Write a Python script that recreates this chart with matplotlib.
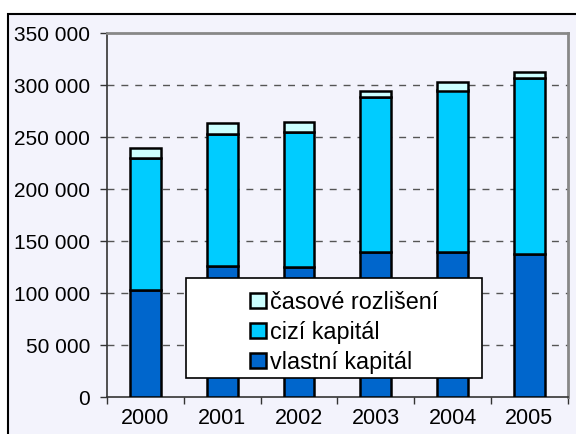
import matplotlib
matplotlib.use('Agg')
import matplotlib.pyplot as plt
import matplotlib.patches as mpatches
import matplotlib.ticker as mticker
import numpy as np

plt.rcParams['font.family'] = ['Liberation Sans', 'DejaVu Sans']

years = ['2000', '2001', '2002', '2003', '2004', '2005']
vlastni = [103000, 126000, 125000, 139500, 139500, 138000]
cizi = [127000, 127000, 130000, 149500, 155500, 169000]
casove = [10000, 10500, 10000, 5500, 8500, 6000]

bg = '#F3F3FC'
fig = plt.figure(figsize=(5.76, 4.34), dpi=100)
fig.patch.set_facecolor('white')

# outer chart frame (cut off at right/bottom like the original)
frame = mpatches.Rectangle((8 / 576, -0.1), 1.2, 1.1 - 14 / 434,
                           transform=fig.transFigure, facecolor=bg,
                           edgecolor='black', lw=1.5, zorder=-10)
fig.patches.append(frame)

ax = fig.add_axes([107 / 576, 1 - 397.3 / 434, 460.7 / 576, 364 / 434])
ax.set_zorder(5)
ax.set_facecolor(bg)

x = np.arange(len(years))
width = 0.4
v = np.array(vlastni)
c = np.array(cizi)
t = np.array(casove)
kw = dict(width=width, edgecolor='black', linewidth=1.8, zorder=3)
b1 = ax.bar(x, v, color='#0066CC', label='vlastní kapitál', **kw)
b2 = ax.bar(x, c, bottom=v, color='#00CCFF', label='cizí kapitál', **kw)
b3 = ax.bar(x, t, bottom=v + c, color='#CCFFFF', label='časové rozlišení', **kw)

ax.set_xlim(-0.5, 5.5)
ax.set_ylim(0, 350000)
ax.yaxis.set_major_locator(mticker.MultipleLocator(50000))
ax.yaxis.set_major_formatter(mticker.FuncFormatter(lambda val, p: '{:,.0f}'.format(val).replace(',', ' ')))
for yv in range(50000, 350000, 50000):
    ax.axhline(yv, color='#555555', lw=1, linestyle=(0, (5, 5)), zorder=1)

ax.set_xticks(np.arange(-0.5, 6, 1))
ax.set_xticklabels([])
ax.set_xticks(x, minor=True)
ax.set_xticklabels(years, minor=True)
ax.tick_params(axis='x', which='major', length=5, width=1, color='#333333')
ax.tick_params(axis='x', which='minor', length=0, pad=8, labelsize=15.5)
ax.tick_params(axis='y', length=5, width=1, color='#333333', labelsize=15, pad=7)

ax.spines['top'].set_color('#888888')
ax.spines['right'].set_color('#888888')
ax.spines['top'].set_linewidth(2)
ax.spines['right'].set_linewidth(2)
ax.spines['left'].set_color('#333333')
ax.spines['bottom'].set_color('#333333')
ax.spines['left'].set_linewidth(1.2)
ax.spines['bottom'].set_linewidth(1.2)

# legend box like Excel, with items shifted right
box = mpatches.Rectangle((0.171, 0.053), 0.642, 0.274, transform=ax.transAxes,
                         facecolor='white', edgecolor='black', lw=1.2, zorder=5)
ax.add_patch(box)
leg = ax.legend([b3, b2, b1], ['časové rozlišení', 'cizí kapitál', 'vlastní kapitál'],
                loc='upper left', bbox_to_anchor=(0.2843, 0.325), frameon=False,
                borderpad=0, handlelength=0.69, handleheight=0.64,
                handletextpad=0.2, labelspacing=0.3, fontsize=16.8)
leg.set_zorder(6)

plt.savefig('out.png', dpi=100, facecolor=fig.get_facecolor())
